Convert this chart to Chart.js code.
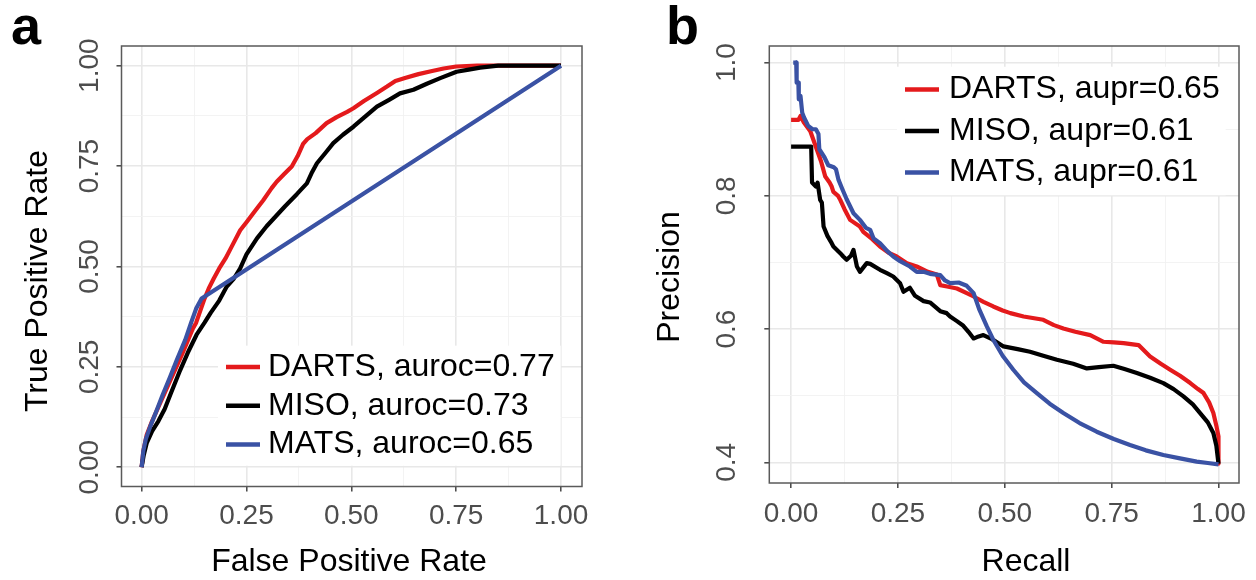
<!DOCTYPE html>
<html lang="en">
<head>
    <meta charset="UTF-8">
    <title>ROC and PR curves</title>
    <style>
        body {
            margin: 0;
            background: #ffffff;
            font-family: 'Liberation Sans', Arial, sans-serif;
        }
        #wrap {
            position: relative;
            width: 1256px;
            height: 580px;
            overflow: hidden;
        }
        canvas {
            position: absolute;
            top: 0;
        }
        #rocChart { left: 0; }
        #prChart { left: 628px; }
        .tag {
            position: absolute;
            top: -2px;
            font-weight: bold;
            font-size: 54px;
            line-height: 54px;
            color: #000;
        }
    </style>
    <script src="https://cdn.jsdelivr.net/npm/chart.js"></script>
</head>
<body>
<div id="wrap">
    <canvas id="rocChart" width="628" height="580"></canvas>
    <canvas id="prChart" width="628" height="580"></canvas>
    <div class="tag" style="left:11px">a</div>
    <div class="tag" style="left:666px">b</div>
</div>

<script>
    // series names and colours
    const methods = ['DARTS', 'MISO', 'MATS'];
    const colors = ['#e41a1c', '#000000', '#3a52a4'];
    const aurocLabels = ['DARTS, auroc=0.77', 'MISO, auroc=0.73', 'MATS, auroc=0.65'];
    const auprLabels = ['DARTS, aupr=0.65', 'MISO, aupr=0.61', 'MATS, aupr=0.61'];

    // ticks
    const rateTicks = [0, 0.25, 0.5, 0.75, 1];
    const rateTickLabels = ['0.00', '0.25', '0.50', '0.75', '1.00'];
    const rateMinor = [0.125, 0.375, 0.625, 0.875];
    const precTicks = [0.4, 0.6, 0.8, 1.0];
    const precTickLabels = ['0.4', '0.6', '0.8', '1.0'];
    const precMinor = [0.5, 0.7, 0.9];

    // ROC curves [fpr, tpr]
    const rocDarts = [[0,0],[0.004,0.04],[0.012,0.08],[0.025,0.115],[0.04,0.15],[0.055,0.185],[0.07,0.22],
        [0.085,0.255],[0.1,0.29],[0.112,0.32],[0.122,0.345],[0.13,0.36],[0.14,0.39],[0.15,0.42],[0.16,0.445],
        [0.172,0.47],[0.185,0.495],[0.2,0.52],[0.215,0.55],[0.235,0.59],[0.25,0.61],[0.268,0.635],[0.29,0.665],
        [0.31,0.695],[0.322,0.711],[0.34,0.73],[0.358,0.749],[0.372,0.775],[0.385,0.805],[0.395,0.817],
        [0.415,0.832],[0.441,0.857],[0.465,0.872],[0.49,0.885],[0.505,0.894],[0.53,0.912],[0.561,0.932],
        [0.585,0.948],[0.605,0.962],[0.63,0.97],[0.66,0.979],[0.69,0.986],[0.72,0.993],[0.75,0.998],
        [0.8,1.0],[0.9,1.0],[1.0,1.0]];
    const rocMiso = [[0,0],[0.005,0.03],[0.012,0.06],[0.025,0.09],[0.04,0.115],[0.055,0.145],[0.07,0.185],
        [0.092,0.242],[0.11,0.285],[0.131,0.33],[0.15,0.36],[0.165,0.385],[0.185,0.415],[0.203,0.45],
        [0.22,0.47],[0.235,0.495],[0.25,0.53],[0.275,0.57],[0.298,0.6],[0.32,0.625],[0.342,0.65],[0.37,0.68],
        [0.394,0.707],[0.405,0.732],[0.418,0.757],[0.44,0.785],[0.457,0.807],[0.48,0.828],[0.505,0.848],
        [0.535,0.875],[0.561,0.898],[0.59,0.915],[0.616,0.931],[0.648,0.94],[0.68,0.955],[0.712,0.969],
        [0.751,0.985],[0.78,0.99],[0.807,0.995],[0.85,1.0],[1.0,1.0]];
    const rocMats = [[0,0],[0.004,0.04],[0.01,0.07],[0.02,0.1],[0.036,0.142],[0.05,0.18],[0.068,0.225],
        [0.085,0.27],[0.104,0.317],[0.118,0.36],[0.13,0.395],[0.143,0.42],[1.0,1.0]];

    // PR curves [recall, precision]
    const prDarts = [[0,0.914],[0.017,0.914],[0.022,0.92],[0.03,0.91],[0.045,0.897],[0.06,0.87],[0.07,0.852],
        [0.08,0.829],[0.09,0.82],[0.095,0.814],[0.099,0.806],[0.11,0.8],[0.115,0.794],[0.125,0.78],
        [0.138,0.764],[0.161,0.754],[0.169,0.746],[0.19,0.735],[0.208,0.724],[0.23,0.714],[0.247,0.709],
        [0.271,0.699],[0.294,0.694],[0.32,0.686],[0.341,0.682],[0.349,0.666],[0.365,0.664],[0.388,0.661],
        [0.411,0.654],[0.427,0.649],[0.45,0.641],[0.473,0.634],[0.495,0.628],[0.513,0.624],[0.544,0.619],
        [0.59,0.614],[0.615,0.606],[0.637,0.601],[0.665,0.596],[0.7,0.591],[0.731,0.581],[0.755,0.58],
        [0.778,0.579],[0.813,0.576],[0.84,0.559],[0.865,0.548],[0.887,0.539],[0.91,0.53],[0.934,0.519],
        [0.952,0.51],[0.965,0.504],[0.978,0.49],[0.988,0.474],[0.995,0.455],[1.0,0.439],[1.0,0.398]];
    const prMiso = [[0,0.874],[0.047,0.874],[0.049,0.82],[0.058,0.814],[0.062,0.82],[0.068,0.794],[0.072,0.79],
        [0.076,0.754],[0.085,0.74],[0.095,0.729],[0.099,0.724],[0.115,0.714],[0.122,0.709],[0.13,0.704],
        [0.14,0.71],[0.146,0.719],[0.154,0.694],[0.161,0.686],[0.177,0.699],[0.185,0.698],[0.208,0.689],
        [0.224,0.684],[0.239,0.679],[0.255,0.669],[0.263,0.656],[0.278,0.662],[0.29,0.65],[0.31,0.642],
        [0.325,0.64],[0.349,0.627],[0.364,0.624],[0.372,0.619],[0.388,0.612],[0.403,0.605],[0.415,0.596],
        [0.427,0.586],[0.435,0.588],[0.45,0.591],[0.47,0.585],[0.497,0.574],[0.53,0.57],[0.559,0.566],
        [0.59,0.56],[0.622,0.554],[0.66,0.548],[0.692,0.541],[0.72,0.543],[0.754,0.545],[0.78,0.54],
        [0.809,0.534],[0.84,0.527],[0.871,0.519],[0.895,0.51],[0.918,0.499],[0.94,0.487],[0.957,0.474],
        [0.975,0.46],[0.988,0.444],[0.995,0.425],[1.0,0.398]];
    const prMats = [[0.005,1.0],[0.012,1.0],[0.013,0.97],[0.017,0.97],[0.018,0.945],[0.022,0.95],[0.026,0.925],
        [0.03,0.918],[0.04,0.905],[0.05,0.9],[0.058,0.9],[0.064,0.893],[0.066,0.87],[0.078,0.858],
        [0.087,0.846],[0.1,0.843],[0.105,0.84],[0.111,0.824],[0.12,0.81],[0.13,0.795],[0.146,0.774],
        [0.161,0.764],[0.175,0.752],[0.185,0.749],[0.193,0.736],[0.208,0.729],[0.225,0.717],[0.239,0.709],
        [0.255,0.702],[0.278,0.694],[0.294,0.686],[0.31,0.686],[0.325,0.683],[0.349,0.681],[0.36,0.673],
        [0.372,0.669],[0.392,0.67],[0.411,0.665],[0.427,0.654],[0.44,0.63],[0.458,0.604],[0.473,0.584],
        [0.495,0.56],[0.52,0.539],[0.545,0.52],[0.575,0.504],[0.605,0.488],[0.637,0.474],[0.675,0.459],
        [0.715,0.446],[0.755,0.435],[0.793,0.426],[0.83,0.418],[0.871,0.411],[0.91,0.406],[0.949,0.401],
        [0.975,0.399],[1.0,0.397]];

    const FONT = "'Liberation Sans', Arial, sans-serif";

    // axis with major + minor grid lines like ggplot
    function makeAxis(min, max, majors, labels, minors, isY, boxSize, labelPad) {
        return {
            type: 'linear',
            min: min,
            max: max,
            afterBuildTicks: function (scale) {
                const t = majors.map(v => ({ value: v, major: true }))
                    .concat(minors.map(v => ({ value: v, major: false })));
                t.sort((a, b) => a.value - b.value);
                scale.ticks = t;
            },
            afterFit: function (scale) {
                if (isY) scale.width = boxSize; else scale.height = boxSize;
            },
            ticks: {
                autoSkip: false,
                padding: labelPad,
                color: '#4d4d4d',
                font: { family: FONT, size: 28 },
                minRotation: isY ? 90 : 0,
                maxRotation: isY ? 90 : 0,
                crossAlign: isY ? 'center' : 'near',
                callback: function (value) {
                    const i = majors.indexOf(value);
                    return i >= 0 ? labels[i] : '';
                }
            },
            grid: {
                color: c => (c.tick && c.tick.major) ? '#e8e8e8' : '#f2f2f2',
                lineWidth: c => (c.tick && c.tick.major) ? 1.6 : 0.9,
                tickColor: c => (c.tick && c.tick.major) ? '#444444' : 'rgba(0,0,0,0)',
                tickLength: 5,
                tickWidth: 1.5
            },
            border: { display: false }
        };
    }

    // legend drawn inside the panel, ggplot style
    const insideLegend = {
        id: 'insideLegend',
        afterDatasetsDraw(chart, args, o) {
            const ctx = chart.ctx;
            ctx.save();
            ctx.font = o.size + 'px ' + FONT;
            const sets = chart.data.datasets;
            let w = 0;
            sets.forEach(ds => { w = Math.max(w, ctx.measureText(ds.label).width); });
            ctx.fillStyle = '#ffffff';
            ctx.fillRect(o.x - 8, o.y - o.gap / 2 - 2, o.len + o.textGap + w + 14, o.gap * sets.length + 4);
            ctx.textBaseline = 'middle';
            sets.forEach((ds, i) => {
                const y = o.y + i * o.gap;
                ctx.strokeStyle = ds.borderColor;
                ctx.lineWidth = 4.5;
                ctx.beginPath();
                ctx.moveTo(o.x, y);
                ctx.lineTo(o.x + o.len, y);
                ctx.stroke();
                ctx.fillStyle = '#000000';
                ctx.fillText(ds.label, o.x + o.len + o.textGap, y);
            });
            ctx.restore();
        }
    };

    // panel border and axis titles
    const panelFrame = {
        id: 'panelFrame',
        afterDraw(chart, args, o) {
            const ctx = chart.ctx;
            const a = chart.chartArea;
            ctx.save();
            ctx.strokeStyle = '#5a5a5a';
            ctx.lineWidth = 1.5;
            ctx.strokeRect(a.left, a.top, a.right - a.left, a.bottom - a.top);
            ctx.fillStyle = '#000000';
            ctx.font = o.size + 'px ' + FONT;
            ctx.textAlign = 'center';
            ctx.textBaseline = 'middle';
            ctx.fillText(o.xTitle, o.xPos[0], o.xPos[1]);
            ctx.translate(o.yPos[0], o.yPos[1]);
            ctx.rotate(-Math.PI / 2);
            ctx.fillText(o.yTitle, 0, 0);
            ctx.restore();
        }
    };

    function buildSets(curves, labels) {
        return curves.map((pts, i) => ({
            label: labels[i],
            data: pts.map(p => ({ x: p[0], y: p[1] })),
            borderColor: colors[i],
            backgroundColor: colors[i],
            borderWidth: 4.2,
            pointRadius: 0,
            showLine: true,
            tension: 0,
            borderJoinStyle: 'round',
            order: curves.length - i
        }));
    }

    new Chart(document.getElementById('rocChart'), {
        type: 'scatter',
        data: { datasets: buildSets([rocDarts, rocMiso, rocMats], aurocLabels) },
        plugins: [insideLegend, panelFrame],
        options: {
            responsive: false,
            animation: false,
            events: [],
            layout: { padding: { left: 0, right: 46, top: 46, bottom: 0 } },
            scales: {
                x: makeAxis(-0.048, 1.05, rateTicks, rateTickLabels, rateMinor, false, 93.5, 8),
                y: makeAxis(-0.048, 1.049, rateTicks, rateTickLabels, rateMinor, true, 121.5, -1)
            },
            plugins: {
                legend: { display: false },
                tooltip: { enabled: false },
                insideLegend: { x: 226, y: 367, gap: 38.7, len: 34, textGap: 8, size: 32 },
                panelFrame: { size: 32, xTitle: 'False Positive Rate', xPos: [349, 562],
                    yTitle: 'True Positive Rate', yPos: [38, 281] }
            }
        }
    });

    new Chart(document.getElementById('prChart'), {
        type: 'scatter',
        data: { datasets: buildSets([prDarts, prMiso, prMats], auprLabels) },
        plugins: [insideLegend, panelFrame],
        options: {
            responsive: false,
            animation: false,
            events: [],
            layout: { padding: { left: 0, right: 17, top: 46, bottom: 0 } },
            scales: {
                x: makeAxis(-0.051, 1.048, rateTicks, rateTickLabels, rateMinor, false, 97, 9),
                y: makeAxis(0.369, 1.025, precTicks, precTickLabels, precMinor, true, 141.3, 17.5)
            },
            plugins: {
                legend: { display: false },
                tooltip: { enabled: false },
                insideLegend: { x: 277, y: 89.5, gap: 41.5, len: 34, textGap: 10, size: 32 },
                panelFrame: { size: 32, xTitle: 'Recall', xPos: [398, 562],
                    yTitle: 'Precision', yPos: [42, 277] }
            }
        }
    });
</script>
</body>
</html>
